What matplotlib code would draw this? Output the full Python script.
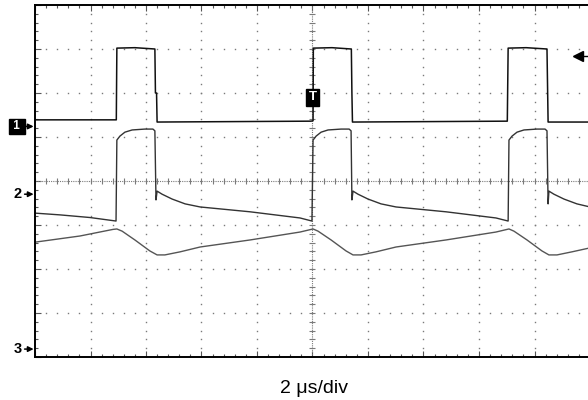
"""
Scope capture: three channels, 2 us/div, 10 x 8 divisions.
  python plot.py  -> out.png
"""
import numpy as np
import matplotlib
matplotlib.use("Agg")
import matplotlib.pyplot as plt

plt.rcParams["font.family"] = ["Liberation Sans", "DejaVu Sans"]

# time in us, amplitude in divisions (0 = screen centre)
CH1_T = [0.00, 2.93, 2.95, 3.60, 4.32, 4.34, 4.38, 4.40, 9.95, 10.02, 10.03, 10.70, 11.40, 11.42, 11.44,
         17.02, 17.05, 17.70, 18.45, 18.49, 20.00]
CH1_V = [1.39, 1.39, 3.02, 3.03, 3.00, 2.00, 2.00, 1.34, 1.36, 1.37, 3.02, 3.03, 3.00, 2.00, 1.34,
         1.36, 3.02, 3.03, 3.00, 1.34, 1.34]

CH2_T = [0.00, 0.90, 1.98, 2.92, 2.95, 3.06, 3.24, 3.50, 3.96, 4.25, 4.32, 4.36, 4.40, 4.58, 4.94,
         5.41, 5.95, 7.75, 9.55, 9.98, 10.02, 10.13, 10.31, 10.56, 11.03, 11.32, 11.39, 11.42, 11.46,
         11.64, 12.00, 12.47, 13.01, 14.81, 16.61, 17.05, 17.08, 17.19, 17.37, 17.62, 18.09, 18.38,
         18.45, 18.49, 18.52, 18.70, 19.06, 19.53, 20.00]
CH2_V = [-0.73, -0.77, -0.83, -0.91, 0.93, 1.02, 1.11, 1.16, 1.18, 1.18, 1.14, -0.43, -0.23, -0.30, -0.41,
         -0.52, -0.59, -0.70, -0.84, -0.91, 0.93, 1.02, 1.11, 1.16, 1.18, 1.18, 1.14, -0.43, -0.23,
         -0.30, -0.41, -0.52, -0.59, -0.70, -0.84, -0.91, 0.93, 1.02, 1.11, 1.16, 1.18, 1.18,
         1.14, -0.52, -0.23, -0.30, -0.41, -0.52, -0.59]

CH3_T = [0.00, 1.62, 2.81, 2.95, 3.14, 3.60, 4.14, 4.40, 4.68, 5.23, 5.95, 7.75, 9.55, 10.02, 10.20,
         10.67, 11.21, 11.46, 11.75, 12.29, 13.01, 14.81, 16.61, 17.08, 17.26, 17.73, 18.27, 18.52,
         18.81, 19.35, 20.00]
CH3_V = [-1.39, -1.25, -1.10, -1.09, -1.14, -1.34, -1.59, -1.68, -1.68, -1.61, -1.50, -1.34, -1.16,
         -1.09, -1.14, -1.34, -1.59, -1.68, -1.68, -1.61, -1.50, -1.34, -1.16, -1.09, -1.14, -1.34,
         -1.59, -1.68, -1.68, -1.61, -1.52]

MARKERS = [("1", 1.24), ("2", -0.30), ("3", -3.82)]   # channel ground refs (div)
TRIG_T, TRIG_LEVEL = 10.0, 2.84
TIMEBASE = "2 \u03bcs/div"

GRID = "#7a7a7a"
W, H = 588, 400

fig = plt.figure(figsize=(W / 100, H / 100), dpi=100)
ax = fig.add_axes([35 / W, 43 / H, 555 / W, 352 / H])
ax.set_xlim(0, 20); ax.set_ylim(-4, 4)

# ---------------------------------------------------------------- graticule
ys = np.arange(-4, 4.01, 0.2)
xs = np.arange(0, 20.01, 0.4)
for gx in range(2, 20, 2):
    if gx == 10:
        continue
    ax.plot(np.full_like(ys, gx), ys, ls="none", marker="s", ms=1.0, color=GRID, mew=0)
for gy in range(-3, 4):
    if gy == 0:
        continue
    ax.plot(xs, np.full_like(xs, gy), ls="none", marker="s", ms=1.0, color=GRID, mew=0)
# centre cross: dense dotted with short ticks
ax.plot([10, 10], [-4, 4], color=GRID, lw=0.8, ls=(0, (1, 1)))
ax.plot([0, 20], [0, 0], color=GRID, lw=0.8, ls=(0, (1, 1)))
ax.plot(np.full_like(ys, 10), ys, ls="none", marker="_", ms=5, color=GRID, mew=0.8)
ax.plot(xs, np.zeros_like(xs), ls="none", marker="|", ms=5, color=GRID, mew=0.8)

ax.set_xticks(np.arange(0, 20.01, 2)); ax.set_xticks(xs, minor=True)
ax.set_yticks(np.arange(-4, 4.01, 1)); ax.set_yticks(ys, minor=True)
ax.tick_params(which="both", direction="in", top=True, bottom=True, left=True, right=False,
               labelbottom=False, labelleft=False, color="#555555", width=0.8)
ax.tick_params(which="major", length=4)
ax.tick_params(which="minor", length=2.5)
for s in ("left", "top", "bottom"):
    ax.spines[s].set_linewidth(1.4)
ax.spines["right"].set_visible(False)

# ---------------------------------------------------------------- traces
ax.plot(CH3_T, CH3_V, color="#555555", lw=1.0)
ax.plot(CH2_T, CH2_V, color="#333333", lw=1.0)
ax.plot(CH1_T, CH1_V, color="#111111", lw=1.1)

# ---------------------------------------------------------------- channel / trigger markers
for name, gnd in MARKERS:
    if name == "1":
        ax.annotate(" 1 ", (0, gnd), xytext=(-13, 0), textcoords="offset points",
                    ha="center", va="center", fontsize=8.5, fontweight="bold", color="white",
                    bbox=dict(boxstyle="square,pad=0.1", fc="black", ec="black"), annotation_clip=False)
    else:
        ax.annotate(name, (0, gnd), xytext=(-12.5, 0), textcoords="offset points",
                    ha="center", va="center", fontsize=10.5, fontweight="bold", color="black",
                    annotation_clip=False)
    ax.annotate("", (0, gnd), xytext=(-7.5, 0), textcoords="offset points",
                arrowprops=dict(arrowstyle="-|>", color="black", lw=1.1, mutation_scale=8,
                                shrinkA=0, shrinkB=1), annotation_clip=False)

ax.text(TRIG_T, 1.90, "T", ha="center", va="center", fontsize=9.5, fontweight="bold", color="white",
        bbox=dict(boxstyle="square,pad=0.2", fc="black", ec="black"))
ax.plot([19.55], [TRIG_LEVEL], marker="<", ms=7, color="black", clip_on=False)
ax.plot([19.6, 20.0], [TRIG_LEVEL, TRIG_LEVEL], color="black", lw=1.0, clip_on=False)

fig.text(314 / W, 7 / H, TIMEBASE, ha="center", va="baseline", fontsize=14)

fig.savefig("out.png", dpi=100)
